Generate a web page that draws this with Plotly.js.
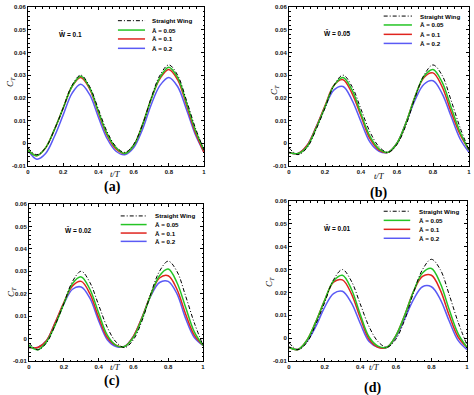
<!DOCTYPE html>
<html>
<head>
<meta charset="utf-8">
<script src="https://cdn.plot.ly/plotly-3.0.1.min.js"></script>
<style>html,body{margin:0;padding:0;background:#fff;}#chart{width:474px;height:395px;}</style>
</head>
<body>
<div id="chart"></div>
<script>
// ---- data ----
var tT = [0,0.05,0.1,0.15,0.2,0.25,0.3,0.35,0.4,0.45,0.5,0.55,0.6,0.65,0.7,0.75,0.8,0.85,0.9,0.95,1];
var straightWing = [-0.002,-0.005,-0.002,0.006,0.0155,0.0255,0.030,0.025,0.015,0.005,-0.0015,-0.004,-0.0005,0.008,0.020,0.030,0.0345,0.030,0.019,0.007,-0.003];

// panel (a) W = 0.1
var a_A005 = [-0.003,-0.0055,-0.002,0.006,0.0155,0.025,0.0295,0.0245,0.014,0.004,-0.002,-0.0045,-0.001,0.008,0.0195,0.029,0.0335,0.029,0.018,0.006,-0.003];
var a_A01  = [-0.003,-0.0055,-0.002,0.006,0.0155,0.025,0.029,0.024,0.0135,0.0035,-0.0025,-0.0045,-0.001,0.008,0.0195,0.0285,0.0325,0.028,0.017,0.005,-0.004];
var a_A02  = [-0.003,-0.007,-0.0045,0.003,0.0125,0.022,0.026,0.0215,0.0115,0.002,-0.0035,-0.005,-0.002,0.006,0.017,0.0255,0.029,0.025,0.015,0.004,-0.004];
// panel (b) W = 0.05
var b_A005 = [-0.004,-0.0045,-0.0015,0.0065,0.016,0.0255,0.029,0.0235,0.013,0.003,-0.0025,-0.004,0.000,0.009,0.0205,0.0295,0.0325,0.027,0.016,0.005,-0.003];
var b_A01  = [-0.004,-0.0045,-0.001,0.007,0.0165,0.0255,0.028,0.022,0.012,0.002,-0.003,-0.004,0.000,0.009,0.0205,0.029,0.031,0.025,0.014,0.004,-0.003];
var b_A02  = [-0.004,-0.0045,-0.001,0.007,0.016,0.0235,0.025,0.019,0.0095,0.0005,-0.0035,-0.004,0.000,0.009,0.019,0.026,0.0275,0.022,0.012,0.002,-0.004];
// panel (c) W = 0.02
var c_A005 = [-0.003,-0.005,-0.0015,0.006,0.0155,0.0245,0.0275,0.022,0.0115,0.0015,-0.003,-0.0035,0.0005,0.009,0.0195,0.028,0.031,0.025,0.014,0.003,-0.003];
var c_A01  = [-0.004,-0.004,-0.001,0.007,0.016,0.0235,0.0255,0.020,0.0095,0.0005,-0.003,-0.0035,0.001,0.0095,0.0195,0.027,0.028,0.022,0.011,0.0015,-0.003];
var c_A02  = [-0.004,-0.004,-0.001,0.007,0.0155,0.022,0.023,0.018,0.008,-0.0005,-0.0035,-0.0035,0.001,0.0095,0.019,0.025,0.0255,0.020,0.009,0.0005,-0.003];
// panel (d) W = 0.01
var d_A005 = [-0.004,-0.005,-0.001,0.007,0.0165,0.025,0.0275,0.0215,0.0105,0.0005,-0.0035,-0.004,0.001,0.010,0.0205,0.0285,0.0305,0.024,0.0125,0.002,-0.004];
var d_A01  = [-0.004,-0.005,-0.001,0.007,0.0165,0.0245,0.0255,0.0195,0.009,-0.0005,-0.004,-0.004,0.001,0.010,0.0205,0.027,0.0275,0.021,0.010,0.0005,-0.004];
var d_A02  = [-0.004,-0.005,-0.0015,0.005,0.0135,0.0195,0.0205,0.0155,0.0065,-0.0015,-0.004,-0.004,0.0005,0.0085,0.017,0.0225,0.0225,0.017,0.0075,-0.001,-0.005];

var panelLabels = ['(a)','(b)','(c)','(d)'];
var wLabels = ['W\u0304 = 0.1','W\u0304 = 0.05','W\u0304 = 0.02','W\u0304 = 0.01'];
var seriesNames = ['Straight Wing','\u0100 = 0.05','\u0100 = 0.1','\u0100 = 0.2'];
var xTickVals = [0,0.2,0.4,0.6,0.8,1];
var xTickText = ['0','0.2','0.4','0.6','0.8','1'];
var yTickVals = [-0.01,0,0.01,0.02,0.03,0.04,0.05,0.06];
var yTickText = ['-0.01','0','0.01','0.02','0.03','0.04','0.05','0.06'];

var panelData = [[a_A005,a_A01,a_A02],[b_A005,b_A01,b_A02],[c_A005,c_A01,c_A02],[d_A005,d_A01,d_A02]];

// ---- styling / layout ----
var colors = ['#25c425','#e0241e','#5a5af5'];
var W = 474, H = 395;
function px(x){return x/W;} function py(y){return 1-y/H;}
// panel pixel boxes [left,right,top,bottom]
var boxes = [[28,204,7,166],[289,469,7,166],[29,203,204,361],[289,467,201,361]];
var legendPos = [
  {x0:0.511,x1:0.665,tx:0.693,ys:[0.914,0.855,0.799,0.740], wx:0.163, wy:0.828},
  {x0:0.526,x1:0.683,tx:0.719,ys:[0.943,0.887,0.828,0.771], wx:0.183, wy:0.835},
  {x0:0.527,x1:0.676,tx:0.715,ys:[0.924,0.869,0.815,0.762], wx:0.197, wy:0.832},
  {x0:0.532,x1:0.681,tx:0.719,ys:[0.936,0.879,0.823,0.767], wx:0.185, wy:0.833}
];
var xTitlePos = [[115,174],[379,176],[115,366.5],[374,367]];
var yTitlePos = [[10,82],[274,90],[11,292],[269,282]];
var labelPos = [[112,186.5],[378,193],[112,380.5],[372,388]];

var dashSW = '4px,2px,1px,2px';
var traces = [], shapes = [], annotations = [];
var layout = {width:W, height:H, margin:{l:0,r:0,t:0,b:0}, showlegend:false,
  paper_bgcolor:'#fff', plot_bgcolor:'#fff', font:{family:'Liberation Sans, Arial, sans-serif', color:'#000'}};

var tickFont = {family:'Liberation Sans, Arial, sans-serif', size:6, color:'#111', weight:'bold'};
for (var p=0;p<4;p++){
  var sfx = p===0 ? '' : String(p+1);
  var xa = 'x'+sfx, ya = 'y'+sfx;
  var b = boxes[p];
  layout['xaxis'+sfx] = {domain:[px(b[0]),px(b[1])], anchor:ya, range:[0,1], showgrid:false, zeroline:false,
    showline:true, linecolor:'#000', linewidth:1, mirror:'ticks', ticks:'inside', ticklen:3, tickwidth:1, tickcolor:'#000',
    tickvals:xTickVals, ticktext:xTickText, tickfont:tickFont,
    minor:{ticks:'inside', ticklen:1.5, dtick:0.04, tick0:0, tickcolor:'#000', showgrid:false}};
  layout['yaxis'+sfx] = {domain:[py(b[3]),py(b[2])], anchor:xa, range:[-0.01,0.06], showgrid:false, zeroline:false,
    showline:true, linecolor:'#000', linewidth:1, mirror:'ticks', ticks:'inside', ticklen:3, tickwidth:1, tickcolor:'#000',
    tickvals:yTickVals, ticktext:yTickText, tickfont:tickFont,
    minor:{ticks:'inside', ticklen:1.5, dtick:0.002, tick0:0, tickcolor:'#000', showgrid:false}};

  var series = panelData[p];
  for (var s=2;s>=0;s--){
    traces.push({x:tT, y:series[s], xaxis:xa, yaxis:ya, mode:'lines', name:seriesNames[s+1],
      line:{color:colors[s], width:1.5, shape:'spline', smoothing:1}, hoverinfo:'skip'});
  }
  traces.push({x:tT, y:straightWing, xaxis:xa, yaxis:ya, mode:'lines', name:seriesNames[0],
    line:{color:'#000', width:1, dash:dashSW, shape:'spline', smoothing:1}, hoverinfo:'skip'});

  // legend (manual, inside frame)
  var lp = legendPos[p];
  var lcol = ['#000'].concat(colors);
  for (var k=0;k<4;k++){
    shapes.push({type:'line', xref:xa+' domain', yref:ya+' domain', x0:lp.x0, x1:lp.x1, y0:lp.ys[k], y1:lp.ys[k],
      line:{color:lcol[k], width:k===0?1:1.5, dash:k===0?dashSW:'solid'}});
    annotations.push({xref:xa+' domain', yref:ya+' domain', x:lp.tx, y:lp.ys[k], xanchor:'left', yanchor:'middle',
      text:'<b>'+seriesNames[k]+'</b>', showarrow:false, font:{size:6.2, color:'#000', family:'Liberation Sans, Arial, sans-serif'}});
  }
  annotations.push({xref:xa+' domain', yref:ya+' domain', x:lp.wx, y:lp.wy, xanchor:'left', yanchor:'middle',
    text:'<b>'+wLabels[p]+'</b>', showarrow:false, font:{size:6.5, color:'#000', family:'Liberation Sans, Arial, sans-serif'}});
  // axis titles
  annotations.push({xref:'paper', yref:'paper', x:px(xTitlePos[p][0]), y:py(xTitlePos[p][1]), xanchor:'center', yanchor:'middle',
    text:'<i>t/T</i>', showarrow:false, borderpad:0, font:{size:8.5, family:'Liberation Serif, Times New Roman, serif', color:'#000'}});
  annotations.push({xref:'paper', yref:'paper', x:px(yTitlePos[p][0]), y:py(yTitlePos[p][1]), xanchor:'center', yanchor:'middle',
    text:'<i>C<sub>T</sub></i>', textangle:-90, showarrow:false, font:{size:9, family:'Liberation Serif, Times New Roman, serif', color:'#000'}});
  // panel label
  annotations.push({xref:'paper', yref:'paper', x:px(labelPos[p][0]), y:py(labelPos[p][1]), xanchor:'center', yanchor:'middle',
    text:'<b>'+panelLabels[p]+'</b>', showarrow:false, borderpad:0, font:{size:14, family:'Liberation Serif, Times New Roman, serif', color:'#000'}});
}
layout.shapes = shapes;
layout.annotations = annotations;
Plotly.newPlot('chart', traces, layout, {displayModeBar:false, staticPlot:true});
</script>
</body>
</html>
